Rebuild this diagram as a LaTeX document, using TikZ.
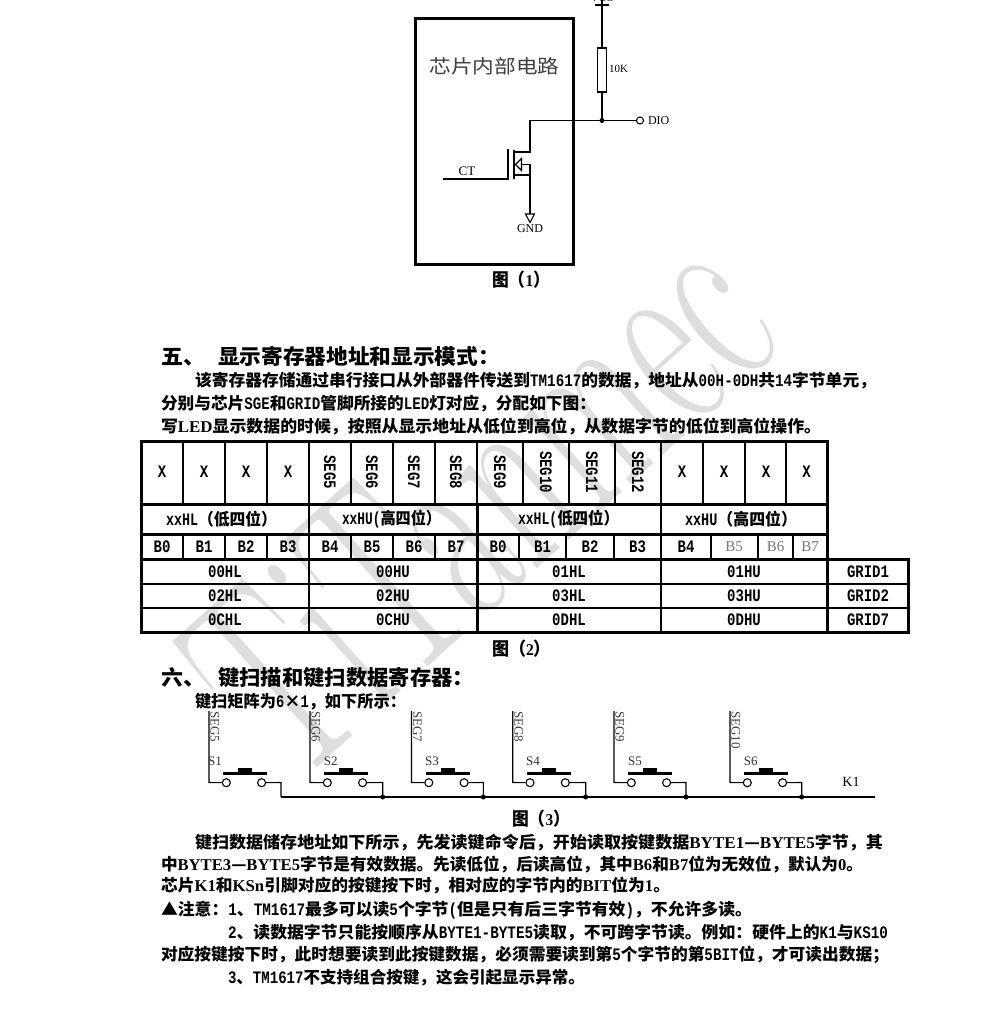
\documentclass[tikz,border=0pt]{standalone}
\usepackage{fontspec}
\usepackage{graphicx}
\newfontfamily\cjn{Noto Sans CJK SC}
\newfontfamily\sermain{Liberation Serif}
\newfontfamily\monomain{Liberation Mono}
\newcommand{\sz}[1]{\fontsize{#1}{#1}\selectfont}
\newcommand{\lm}[1]{\scalebox{.8}[1]{\sz{17.5}\monomain\bfseries #1}}
\newcommand{\ls}[1]{{\sz{16.5}\sermain\bfseries #1}}
\newcommand{\bodyfont}{\sz{16.5}\cjn\bfseries}
% name, x, baseline y, width, text
\newcommand{\fitline}[5]{\node[txtl] (#1) at (#2,#3) {\resizebox{#4pt}{\height}{\bodyfont #5}};}
\newcommand{\capline}[5]{\node[txtl] (#1) at (#2,#3) {\resizebox{#4pt}{\height}{\sz{18}\cjn\bfseries #5}};}
\newcommand{\headline}[5]{\node[txtl] (#1) at (#2,#3) {\resizebox{#4pt}{\height}{\sz{21}\cjn\bfseries #5}};}
\definecolor{wm}{HTML}{DEDEDE}
\definecolor{dimtxt}{HTML}{777777}
\tikzset{
  txtl/.style={inner sep=0pt,outer sep=0pt,anchor=base west},
  ctxt/.style={inner sep=0pt,outer sep=0pt,anchor=center},
  wire/.style={draw=black,line width=1.1pt},
  thickb/.style={draw=black,line width=3pt},
  thinb/.style={draw=black,line width=1.4pt},
  pin/.style={circle,draw=black,fill=white,line width=1.1pt,minimum size=8pt,inner sep=0pt},
  jdot/.style={circle,fill=black,minimum size=5pt,inner sep=0pt},
  schem/.style={inner sep=0pt,outer sep=0pt,font=\sz{12}\sermain},
  tcell/.style={ctxt},
}
\begin{document}
\begin{tikzpicture}[x=1pt,y=-1pt]
\useasboundingbox (0,0) rectangle (991,1025);
\fill[white] (0,0) rectangle (991,1025);
% watermark
\node[txtl,rotate=42,text=wm] (wmark) at (294,788) {\resizebox{665pt}{\height}{\sz{280}\normalfont TiTanmec}};

% ---------- figure 1
\draw[line width=3pt] (415,19) rectangle (573,264);
\node[ctxt] (chip) at (494.5,66) {\resizebox{130pt}{\height}{\sz{19}\cjn\color{black!75}芯片内部电路}};
\coordinate (vcctop) at (602,0);
\coordinate (vccbl) at (595,5);
\coordinate (vccbr) at (609,5);
\node[schem,anchor=center] (vcc) at (602,-2) {\sz{11}VCC};
\node[draw=black,line width=1.1pt,fill=white,minimum width=9pt,minimum height=44pt,inner sep=0pt,outer sep=0pt] (r1) at (602,70) {};
\node[schem,anchor=west] (r1v) at (609,69) {\sz{11}10K};
\node[jdot] (j1) at (602,120.5) {};
\node[pin,minimum size=7pt] (dio) at (640,120.5) {};
\node[schem,anchor=west] (diot) at (648,121) {DIO};
\coordinate (dr) at (530,120.5);
\coordinate (drb) at (530,152);
\coordinate (drc) at (515,152);
\coordinate (srt) at (521,164.5);
\coordinate (srr) at (530,164.5);
\coordinate (srb) at (530,175);
\coordinate (src) at (515,175);
\coordinate (gndt) at (530,214);
\coordinate (gatel) at (443,179);
\coordinate (gater) at (508,179);
\draw[wire] (vccbl) -- (vccbr);
\draw[wire] (vcctop) -- (r1.north);
\draw[wire] (r1.south) -- (j1);
\draw[wire] (dio) -- (dr) -- (drb) -- (drc);
\draw[wire] (srt) -- (srr) -- (gndt);
\draw[wire] (srb) -- (src);
\draw[wire] (gatel) -- (gater) -- (508,149);
\draw[line width=1.5pt] (514,149.5) -- (514,179);
\draw[line width=1.2pt,fill=white,line join=miter] (515.5,164.5) -- (521.5,158.5) -- (521.5,170.5) -- cycle;
\draw[line width=1.1pt,fill=white] (gndt) ++(-4.5,0) -- ++(9,0) -- ++(-4.5,8.5) -- cycle;
\node[schem,anchor=center] (gndl) at (530,229) {GND};
\node[schem,anchor=center] (ctl) at (467,171) {\sz{13}CT};
\capline{cap1}{492}{286}{58}{图（\ls{1}）}

% ---------- section five
\headline{h5a}{161}{364}{44}{五、}
\headline{h5b}{218}{364}{282}{显示寄存器地址和显示模式：}
\fitline{p1}{195}{386.5}{681}{该寄存器存储通过串行接口从外部器件传送到\lm{TM1617}的数据，地址从\lm{00H-0DH}共\lm{14}字节单元，}
\fitline{p2}{161}{409.5}{435}{分别与芯片\lm{SGE}和\lm{GRID}管脚所接的\lm{LED}灯对应，分配如下图：}
\fitline{p3}{161}{432}{660}{写\ls{LED}显示数据的时候，按照从显示地址从低位到高位，从数据字节的低位到高位操作。}

% ---------- table lines
\foreach \x in {183,225,267,309,351,393,435,477,523,569,615,661,703,745,786}
  \draw[thinb] (\x,441) -- (\x,504);
\foreach \x in {183,225,267,309,351,393,435,519,566,614,661,711,758,793}
  \draw[thinb] (\x,534) -- (\x,559);
\draw[thinb] (309,504) -- (309,534);
\draw[thinb] (661,504) -- (661,534);
\draw[thinb] (309,559) -- (309,632);
\draw[thinb] (661,559) -- (661,632);
\draw[thinb] (141,584) -- (908,584);
\draw[thinb] (141,608) -- (908,608);
\draw[thickb] (477,504) -- (477,632);
\draw[thickb] (827,441) -- (827,632);
\draw[thickb] (908,559) -- (908,632);
\draw[thickb] (139.5,441) -- (828.5,441);
\draw[thickb] (141,504) -- (827,504);
\draw[thickb] (141,534) -- (827,534);
\draw[thickb] (141,559) -- (909.5,559);
\draw[thickb] (139.5,632) -- (909.5,632);
\draw[thickb] (141,441) -- (141,632);

% table row 1
\foreach \x/\n in {162/a,204/b,246/c,288/d,682/e,724/f,766/g,806.5/h}
  \node[tcell] (x\n) at (\x,472) {\lm{X}};
\foreach \x/\t in {330/SEG5,372/SEG6,414/SEG7,456/SEG8,500/SEG9,546/SEG10,592/SEG11,638/SEG12}
  \node[tcell,rotate=270] (c\t) at (\x,472) {\lm{\t}};
% row 2
\node[ctxt] (r2a) at (221.5,519) {\resizebox{111pt}{\height}{\sz{16.5}\cjn\bfseries\lm{xxHL}（低四位）}};
\node[ctxt] (r2b) at (391.5,519) {\resizebox{99pt}{\height}{\sz{16.5}\cjn\bfseries\lm{xxHU(}高四位）}};
\node[ctxt] (r2c) at (568.5,519) {\resizebox{101pt}{\height}{\sz{16.5}\cjn\bfseries\lm{xxHL(}低四位）}};
\node[ctxt] (r2d) at (741,519) {\resizebox{112pt}{\height}{\sz{16.5}\cjn\bfseries\lm{xxHU}（高四位）}};
% row 3
\foreach \x/\t/\n in {162/B0/a,204/B1/b,246/B2/c,288/B3/d,330/B4/e,372/B5/f,414/B6/g,456/B7/h,498/B0/i,542.5/B1/j,590/B2/k,637.5/B3/l,686/B4/m}
  \node[tcell] (b\n) at (\x,547) {\lm{\t}};
\foreach \x/\t in {734/B5,775.5/B6,810/B7}
  \node[ctxt,font=\sz{15}\sermain,text=dimtxt] (g\t) at (\x,547) {\t};
% rows 4-6
\foreach \y/\a/\b/\c/\d/\e in {571.5/00HL/00HU/01HL/01HU/GRID1,596/02HL/02HU/03HL/03HU/GRID2,620/0CHL/0CHU/0DHL/0DHU/GRID7}{
  \node[tcell] (n\a) at (225,\y) {\lm{\a}};
  \node[tcell] (n\b) at (393,\y) {\lm{\b}};
  \node[tcell] (n\c) at (569,\y) {\lm{\c}};
  \node[tcell] (n\d) at (744,\y) {\lm{\d}};
  \node[tcell] (n\e) at (868,\y) {\lm{\e}};
}
\capline{cap2}{492}{655}{59}{图（\ls{2}）}

% ---------- section six
\headline{h6a}{161}{685}{44}{六、}
\headline{h6b}{218}{685}{256}{键扫描和键扫数据寄存器：}
\fitline{p4}{195}{707.5}{211}{键扫矩阵为\lm{6}×\lm{1}，如下所示：}

% ---------- key matrix
\coordinate (busr) at (875,797);
\coordinate (bus0) at (281,797);
\foreach \o/\fx/\rx/\lx/\sn/\seg in {209/1/281/215/S1/SEG5,310/2/382.7/330.7/S2/SEG6,411.5/3/483.3/432/S3/SEG7,512.7/4/585.7/533/S4/SEG8,614/5/686/635/S5/SEG9,730/6/801.7/750.7/S6/SEG10}{
  \coordinate (top\fx) at (\o,711);
  \coordinate (low\fx) at (\o,782.5);
  \node[pin] (pa\fx) at (\o+17.3,782.7) {};
  \node[pin] (pb\fx) at (\o+52.6,782.7) {};
  \coordinate (rt\fx) at (\rx,782.5);
  \coordinate (rb\fx) at (\rx,797);
  \draw[wire] (top\fx) -- (low\fx) -- (pa\fx);
  \draw[wire] (pb\fx) -- (rt\fx) -- (rb\fx);
  \fill[black] (\o+14,772) rectangle (\o+58,774.5);
  \fill[black] (\o+29,768) rectangle (\o+43,773);
  \node[schem,anchor=center,text=black!80] (sl\fx) at (\lx,761) {\sz{13}\sn};
  \node[schem,anchor=south west,rotate=270,text=black!75] (ss\fx) at (\o+1.5,711) {\sz{13}\seg};
}
\draw[wire] (bus0) -- (busr);
\foreach \i in {2,...,6} \node[jdot] (jk\i) at (rb\i) {};
\node[schem,anchor=center] (k1t) at (851,782) {\sz{14}K1};
\capline{cap3}{512}{825}{58}{图（\ls{3}）}

% ---------- paragraphs
\fitline{q1}{195}{848.5}{688}{键扫数据储存地址如下所示，先发读键命令后，开始读取按键数据\ls{BYTE1}—\ls{BYTE5}字节，其}
\fitline{q2}{161}{870.5}{702}{中\ls{BYTE3}—\ls{BYTE5}字节是有效数据。先读低位，后读高位，其中\ls{B6}和\ls{B7}位为无效位，默认为\ls{0}。}
\fitline{q3}{161}{891.5}{509}{芯片\ls{K1}和\ls{KSn}引脚对应的按键按下时，相对应的字节内的\ls{BIT}位为\ls{1}。}
\fitline{q4}{161}{915.5}{591}{▲注意：\lm{1}、\lm{TM1617}最多可以读\lm{5}个字节\lm{(}但是只有后三字节有效\lm{)}，不允许多读。}
\fitline{q5}{228}{938.5}{660}{\lm{2}、读数据字节只能按顺序从\lm{BYTE1-BYTE5}读取，不可跨字节读。例如：硬件上的\lm{K1}与\lm{KS10}}
\fitline{q6}{161}{960.5}{728}{对应按键按下时，此时想要读到此按键数据，必须需要读到第\lm{5}个字节的第\lm{5BIT}位，才可读出数据；}
\fitline{q7}{228}{983.5}{357}{\lm{3}、\lm{TM1617}不支持组合按键，这会引起显示异常。}
\end{tikzpicture}
\end{document}
